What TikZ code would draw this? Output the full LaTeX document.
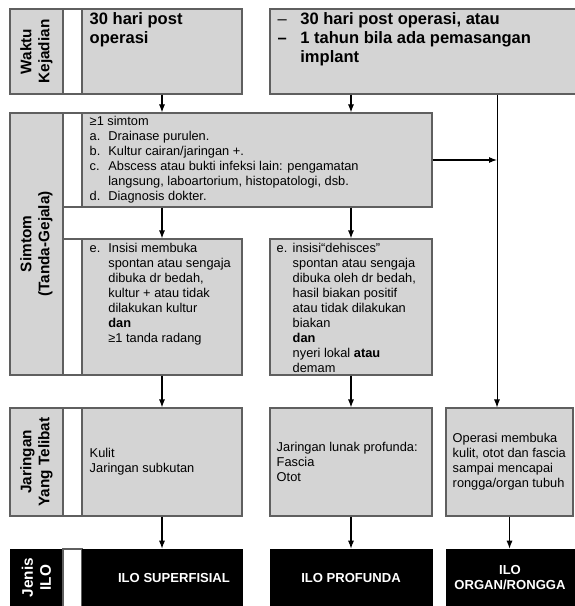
\documentclass[tikz,border=0pt]{standalone}
\usepackage{fontspec}
\setmainfont{Liberation Sans}
\usepackage{xcolor}
\usepackage{tikz}
\usetikzlibrary{positioning, arrows.meta, fit}
\definecolor{cellgray}{RGB}{212,212,212}
\definecolor{edgegray}{RGB}{95,95,95}
\tikzset{
  cell/.style={draw=edgegray, fill=cellgray, line width=0.8pt, inner sep=0pt},
  gapcell/.style={draw=edgegray, fill=white, line width=0.8pt, inner sep=0pt},
  ilocell/.style={draw=black, fill=black, inner sep=0pt},
  rowlabel/.style={rotate=90, align=center, font=\fontsize{11.5}{13.5}\selectfont\bfseries},
  headtext/.style={anchor=north west, inner sep=0pt, align=left,
    font=\fontsize{12.4}{14.2}\selectfont\bfseries},
  bodytext/.style={inner sep=0pt, align=left, font=\fontsize{9.6}{11.25}\selectfont},
  ilotext/.style={align=center, text=white, font=\fontsize{9.8}{11.5}\selectfont\bfseries},
  arr/.style={-{Latex[length=6pt,width=4.5pt]}, line width=0.8pt},
}
\newcommand{\itm}[3][14pt]{\makebox[#1][l]{#2}#3}
\newcommand{\cnt}[1][14pt]{\hspace*{#1}}

\begin{document}
\begin{tikzpicture}[x=0.75pt, y=-0.75pt]
  \useasboundingbox (0,0) rectangle (574,606);

  % waktu kejadian
  \node[cell, fit={(10,9) (63,94)}] (wkLabel) {};
  \node[gapcell, fit={(63,9) (82,94)}] (wkGap) {};
  \node[cell, fit={(82,9) (242,94)}] (wkA) {};
  \node[cell, fit={(270,9) (580,94)}] (wkB) {};
  \node[rowlabel] at (wkLabel) {Waktu\\Kejadian};
  \node[headtext] at ([shift={(8,4)}]wkA.north west) {30 hari post\\operasi};
  \node[headtext] at ([shift={(8,4)}]wkB.north west)
    {\makebox[17pt][l]{\mdseries --}30 hari post operasi, atau\\
     \makebox[17pt][l]{--}1 tahun bila ada pemasangan\\
     \hspace*{17pt}implant};

  % simtom
  \node[cell, fit={(10,113) (63,375)}] (smLabel) {};
  \node[gapcell, fit={(63,113) (82,207)}] (smGap1) {};
  \node[gapcell, fit={(63,239) (82,375)}] (smGap2) {};
  \node[cell, fit={(82,113) (432,207)}] (smTop) {};
  \node[cell, fit={(82,239) (242,375)}] (smE1) {};
  \node[cell, fit={(270,239) (432,375)}] (smE2) {};
  \node[rowlabel] at (smLabel) {Simtom\\(Tanda-Gejala)};
  \node[bodytext, anchor=north west] at ([shift={(8,3)}]smTop.north west)
    {≥1 simtom\\
     \itm{a.}{Drainase purulen.}\\
     \itm{b.}{Kultur cairan/jaringan +.}\\
     \itm{c.}{Abscess atau bukti infeksi lain: pengamatan}\\
     \cnt langsung, laboartorium, histopatologi, dsb.\\
     \itm{d.}{Diagnosis dokter.}};
  \node[bodytext, anchor=north west] at ([shift={(8,4)}]smE1.north west)
    {\itm{e.}{Insisi membuka}\\
     \cnt spontan atau sengaja\\
     \cnt dibuka dr bedah,\\
     \cnt kultur + atau tidak\\
     \cnt dilakukan kultur\\
     \cnt\textbf{dan}\\
     \cnt ≥1 tanda radang};
  \node[bodytext, anchor=north west] at ([shift={(7,4)}]smE2.north west)
    {\itm[12pt]{e.}{insisi“dehisces”}\\
     \cnt[12pt]spontan atau sengaja\\
     \cnt[12pt]dibuka oleh dr bedah,\\
     \cnt[12pt]hasil biakan positif\\
     \cnt[12pt]atau tidak dilakukan\\
     \cnt[12pt]biakan\\
     \cnt[12pt]\textbf{dan}\\
     \cnt[12pt]nyeri lokal \textbf{atau}\\
     \cnt[12pt]demam};

  % jaringan
  \node[cell, fit={(10,408) (63,516)}] (jrLabel) {};
  \node[gapcell, fit={(63,408) (82,516)}] (jrGap) {};
  \node[cell, fit={(82,408) (242,516)}] (jrA) {};
  \node[cell, fit={(270,408) (432,516)}] (jrB) {};
  \node[cell, fit={(446,408) (573,516)}] (jrC) {};
  \node[rowlabel] at (jrLabel) {Jaringan\\Yang Telibat};
  \node[bodytext, anchor=west] at ([shift={(8,0)}]jrA.west) {Kulit\\Jaringan subkutan};
  \node[bodytext, anchor=west] at ([shift={(7,0)}]jrB.west)
    {Jaringan lunak profunda:\\Fascia\\Otot};
  \node[bodytext, anchor=west] at ([shift={(7,0)}]jrC.west)
    {Operasi membuka\\kulit, otot dan fascia\\sampai mencapai\\rongga/organ tubuh};

  % jenis ILO
  \node[ilocell, fit={(10,549) (63,606)}] (ilLabel) {};
  \node[gapcell, fit={(63,549) (82,612)}] (ilGap) {};
  \node[ilocell, fit={(82,549) (242,606)}] (ilA) {};
  \node[ilocell, fit={(270,549) (432,606)}] (ilB) {};
  \node[ilocell, fit={(446,549) (580,606)}] (ilC) {};
  \node[rowlabel, text=white] at (ilLabel) {Jenis\\ILO};
  \node[ilotext] at ([shift={(12,0)}]ilA) {ILO SUPERFISIAL};
  \node[ilotext] at (ilB) {ILO PROFUNDA};
  \node[ilotext] at ([shift={(-3,0)}]ilC) {ILO\\ORGAN/RONGGA};

  % arrows
  \coordinate (tap) at (497,160);
  \draw[arr] (wkA.south) -- (wkA.south |- smTop.north);
  \draw[arr] (wkB.south -| smE2.north) -- (smE2.north |- smTop.north);
  \draw[arr] (smTop.south -| smE1.north) -- (smE1.north);
  \draw[arr] (smTop.south -| smE2.north) -- (smE2.north);
  \draw[arr, line width=0.7pt] (wkB.south -| tap) -- (jrC.north -| tap);
  \draw[arr] (smTop.east |- tap) -- (tap);
  \draw[arr] (smE1.south) -- (jrA.north);
  \draw[arr] (smE2.south) -- (jrB.north);
  \draw[arr] (jrA.south) -- (ilA.north);
  \draw[arr] (jrB.south) -- (ilB.north);
  \draw[arr] (jrC.south) -- (ilC.north -| jrC.south);
\end{tikzpicture}
\end{document}
